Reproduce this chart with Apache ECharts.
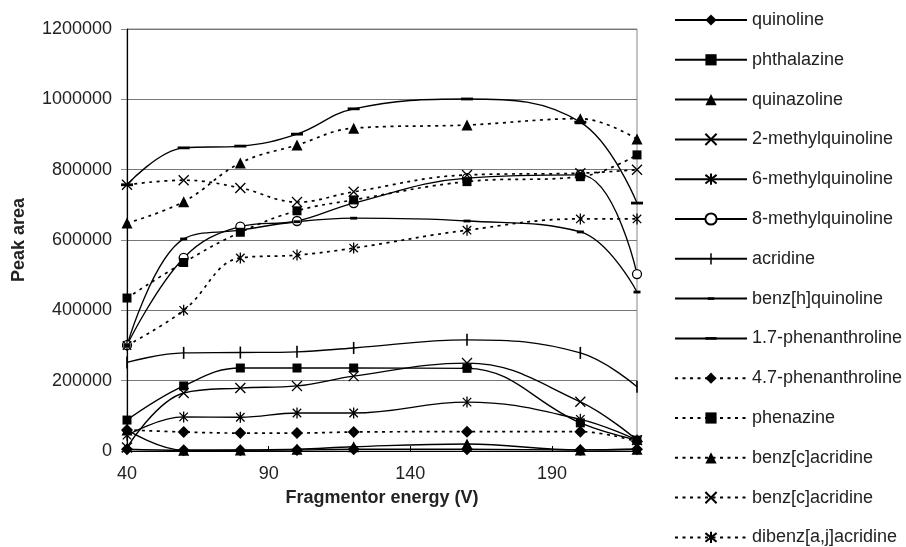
<!DOCTYPE html>
<html>
<head>
<meta charset="utf-8">
<script src="https://cdn.jsdelivr.net/npm/echarts@6/dist/echarts.min.js"></script>
<style>
  html, body { margin: 0; padding: 0; background: #fff; }
  #chart { width: 906px; height: 547px; }
</style>
</head>
<body>
<div id="chart"></div>
<script>
// Fragmentor energy (V) at which each peak area was measured
const energy = [40, 60, 80, 100, 120, 160, 200, 220];
const xTickLabels = [40, 90, 140, 190];

// Peak areas per compound
const quinoline      = [5000, 2000, 2000, 3000, 5000, 5000, 3000, 5000];
const phthalazine    = [88000, 185000, 236000, 236000, 236000, 235000, 80000, 31000];
const quinazoline    = [60000, 2000, 3000, 5000, 12000, 20000, 3000, 5000];
const methylq2       = [10000, 165000, 179000, 185000, 213000, 250000, 140000, 31000];
const methylq6       = [45000, 97000, 96000, 108000, 108000, 139000, 90000, 31000];
const methylq8       = [301000, 549000, 638000, 654000, 705000, 776000, 785000, 503000];
const acridine       = [252000, 279000, 280000, 282000, 293000, 316000, 279000, 183000];
const benzhQuinoline = [300000, 603000, 628000, 652000, 662000, 654000, 623000, 452000];
const phen17         = [757000, 862000, 867000, 901000, 973000, 1001000, 935000, 705000];
const phen47         = [60000, 54000, 51000, 51000, 54000, 55000, 55000, 27000];
const phenazine      = [435000, 536000, 622000, 683000, 714000, 766000, 780000, 842000];
const benzcAcridineA = [648000, 709000, 819000, 870000, 918000, 927000, 945000, 887000];
const benzcAcridineB = [757000, 770000, 748000, 708000, 737000, 785000, 790000, 800000];
const dibenzAcridine = [300000, 400000, 549000, 557000, 577000, 628000, 660000, 660000];

// Marker shapes; the leading moves keep every glyph inside a 12x12 box so
// the thin bars and dashes keep their proportions in the legend as well
const CROSS  = 'path://M0 0L10 10M10 0L0 10';
const STAR   = 'path://M0 0L10 10M10 0L0 10M5 -1.5L5 11.5';
const VBAR   = 'path://M0 0M12 12M5.2 0H6.8V12H5.2Z';
const DASH_S = 'path://M0 0M12 12M2.5 4.6H9.5V7.4H2.5Z';
const DASH_L = 'path://M0 0M12 12M0 4.6H12V7.4H0Z';

const FONT = '"Liberation Sans", Arial, sans-serif';

function pair(vals) { return energy.map((e, i) => [e, vals[i]]); }

function mk(name, vals, symbol, size, dotted, open) {
  return {
    type: 'line',
    name: name,
    data: pair(vals),
    smooth: 0.4,
    symbol: symbol,
    symbolSize: size,
    symbolKeepAspect: true,
    showSymbol: true,
    z: 3,
    lineStyle: {
      color: '#000',
      width: dotted ? 1.7 : 1.35,
      type: dotted ? [3, 4.5] : 'solid'
    },
    itemStyle: open
      ? { color: open === 'circle' ? '#fff' : 'none', borderColor: '#000', borderWidth: 1.3 }
      : { color: '#000', borderColor: '#000', borderWidth: 0 },
    emphasis: { disabled: true },
    animation: false
  };
}

const series = [
  mk('quinoline', quinoline, 'diamond', 12, false),
  mk('phthalazine', phthalazine, 'rect', 9, false),
  mk('quinazoline', quinazoline, 'triangle', 11, false),
  mk('2-methylquinoline', methylq2, CROSS, 10, false, 'line'),
  mk('6-methylquinoline', methylq6, STAR, 11, false, 'line'),
  mk('8-methylquinoline', methylq8, 'circle', 9, false, 'circle'),
  mk('acridine', acridine, VBAR, 12, false),
  mk('benz[h]quinoline', benzhQuinoline, DASH_S, 12, false),
  mk('1.7-phenanthroline', phen17, DASH_L, 12, false),
  mk('4.7-phenanthroline', phen47, 'diamond', 12, true),
  mk('phenazine', phenazine, 'rect', 9, true),
  mk('benz[c]acridine', benzcAcridineA, 'triangle', 11, true),
  mk('benz[c]acridine ', benzcAcridineB, CROSS, 10, true, 'line'),
  mk('dibenz[a,j]acridine', dibenzAcridine, STAR, 11, true, 'line')
];

const chart = echarts.init(document.getElementById('chart'), null, { renderer: 'canvas' });
chart.setOption({
  backgroundColor: '#fff',
  animation: false,
  textStyle: { fontFamily: FONT },
  grid: {
    left: 127, right: 269, top: 29, bottom: 96,
    containLabel: false,
    outerBoundsMode: 'none',
    show: true, borderColor: '#888', borderWidth: 1, backgroundColor: '#fff'
  },
  legend: {
    orient: 'vertical',
    left: 674,
    top: 11,
    padding: 0,
    height: 545,
    itemWidth: 72,
    itemHeight: 14,
    itemGap: 21.8,
    selectedMode: false,
    textStyle: { fontFamily: FONT, fontSize: 18, color: '#222' },
    formatter: n => n.trim(),
    data: series.map(s => s.name)
  },
  xAxis: {
    type: 'value',
    min: 40,
    max: 220,
    name: 'Fragmentor energy (V)',
    nameLocation: 'middle',
    nameGap: 38,
    nameTextStyle: { fontFamily: FONT, fontSize: 18, fontWeight: 'bold', color: '#222' },
    axisLine: { lineStyle: { color: '#000', width: 1.2 } },
    axisTick: { show: true, inside: true, length: 5, customValues: xTickLabels, lineStyle: { color: '#000' } },
    axisLabel: { customValues: xTickLabels, fontFamily: FONT, fontSize: 18, color: '#222', margin: 14 },
    splitLine: { show: false }
  },
  yAxis: {
    type: 'value',
    min: 0,
    max: 1200000,
    interval: 200000,
    name: 'Peak area',
    nameLocation: 'middle',
    nameRotate: 90,
    nameGap: 99,
    nameTextStyle: { fontFamily: FONT, fontSize: 18, fontWeight: 'bold', color: '#222' },
    axisLine: { show: true, lineStyle: { color: '#000', width: 1.2 } },
    axisTick: { show: true, length: 6, lineStyle: { color: '#888' } },
    axisLabel: { fontFamily: FONT, fontSize: 18, color: '#222', margin: 15, formatter: v => String(v) },
    splitLine: { show: true, lineStyle: { color: '#777', width: 1 } }
  },
  series: series
});
</script>
</body>
</html>
